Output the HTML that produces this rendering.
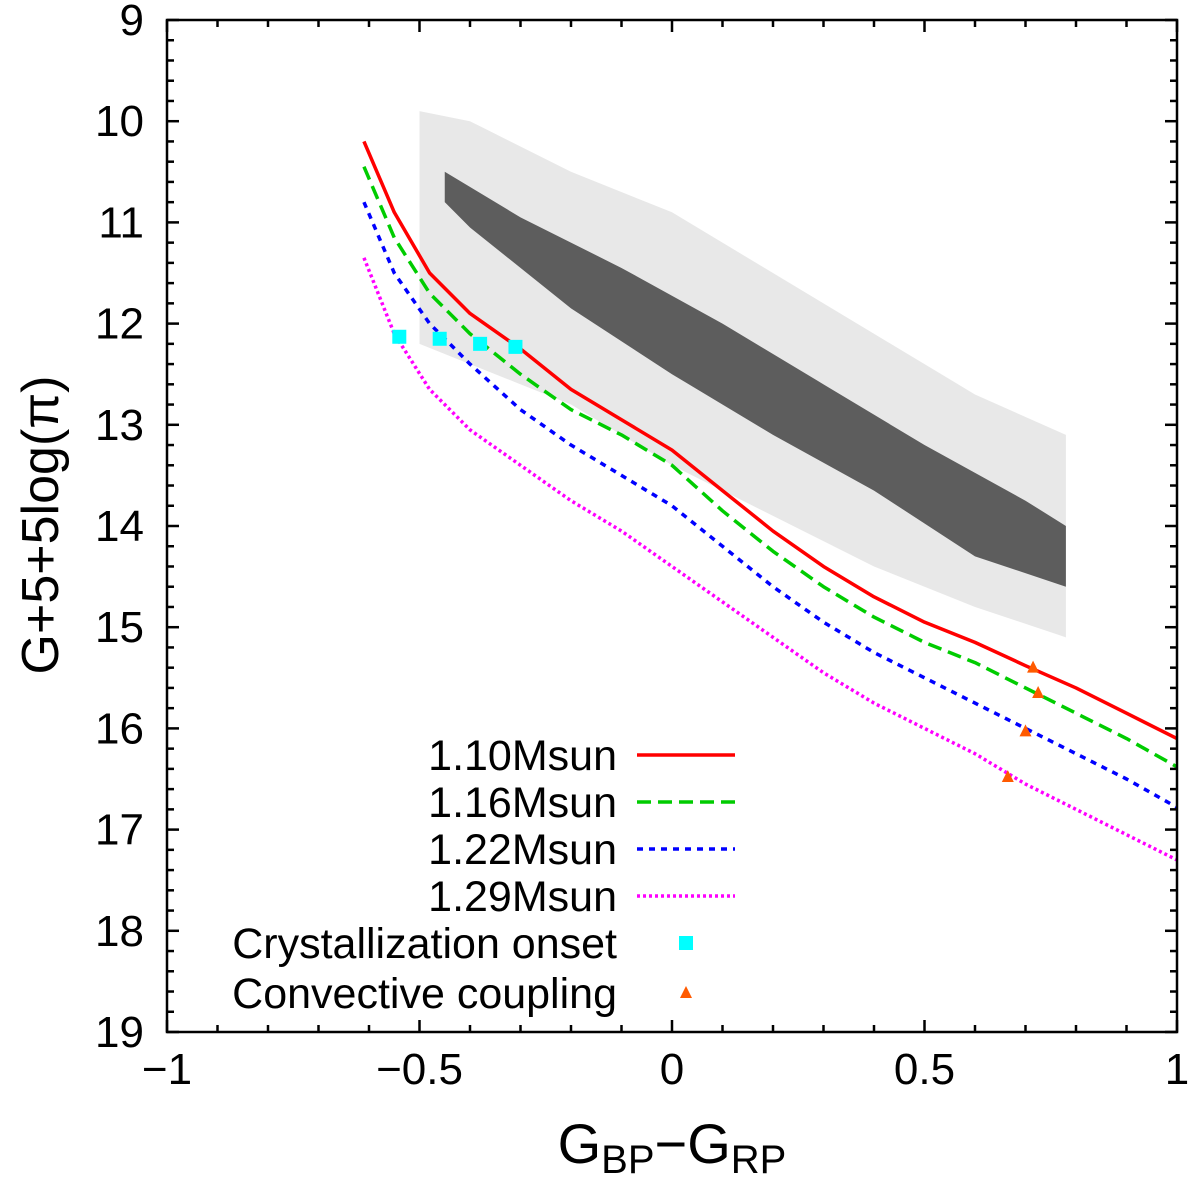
<!DOCTYPE html>
<html><head><meta charset="utf-8"><style>
body{margin:0;background:#fff;}
svg{display:block;font-family:"Liberation Sans",sans-serif;}
</style></head><body>
<svg id="c" width="1200" height="1185" xmlns="http://www.w3.org/2000/svg"></svg>
<script>
const xTicks=[-1,-0.5,0,0.5,1];
const xTickLabels=["\u22121","\u22120.5","0","0.5","1"];
const yTicks=[9,10,11,12,13,14,15,16,17,18,19];
const curveX=[-0.61,-0.55,-0.48,-0.4,-0.3,-0.2,-0.1,0,0.1,0.2,0.3,0.4,0.5,0.6,0.7,0.8,0.9,1.0];
const red110=[10.2,10.9,11.5,11.9,12.25,12.65,12.95,13.25,13.65,14.05,14.4,14.7,14.95,15.15,15.38,15.6,15.85,16.1];
const green116=[10.45,11.15,11.7,12.1,12.5,12.85,13.1,13.4,13.85,14.25,14.6,14.9,15.15,15.35,15.6,15.85,16.1,16.38];
const blue122=[10.8,11.5,12.0,12.4,12.85,13.2,13.5,13.8,14.2,14.6,14.95,15.25,15.5,15.75,16.0,16.25,16.5,16.78];
const mag129=[11.35,12.1,12.65,13.05,13.4,13.75,14.05,14.4,14.75,15.1,15.45,15.75,16.0,16.25,16.55,16.8,17.05,17.3];
const crystX=[-0.54,-0.46,-0.38,-0.31];
const crystY=[12.13,12.15,12.2,12.23];
const convX=[0.715,0.725,0.70,0.665];
const convY=[15.4,15.65,16.03,16.48];
const sparseX=[-0.5,-0.4,-0.2,0,0.2,0.4,0.6,0.78,0.78,0.6,0.4,0.2,0,-0.2,-0.4,-0.5];
const sparseY=[9.9,10.0,10.5,10.9,11.5,12.1,12.7,13.1,15.1,14.8,14.4,13.9,13.4,12.8,12.4,12.2];
const denseX=[-0.45,-0.3,-0.1,0.1,0.3,0.5,0.7,0.78,0.78,0.6,0.4,0.2,0,-0.2,-0.4,-0.45];
const denseY=[10.5,10.95,11.45,12.0,12.6,13.2,13.75,14.0,14.6,14.3,13.65,13.1,12.5,11.85,11.05,10.8];

const L=167,R=1177,T=20,B=1032;
const sx=v=>L+(v+1)/2*(R-L);
const sy=v=>T+(v-9)/10*(B-T);
const NS="http://www.w3.org/2000/svg";
const svg=document.getElementById('c');
function mk(t,a,p){const e=document.createElementNS(NS,t);for(const k in a)e.setAttribute(k,a[k]);(p||svg).appendChild(e);return e;}

let g=mk('g',{});


let e=mk('polygon',{points:sparseX.map((x,i)=>sx(x)+','+sy(sparseY[i])).join(' '),fill:'#000','fill-opacity':0.09},g);


e=mk('polygon',{points:denseX.map((x,i)=>sx(x)+','+sy(denseY[i])).join(' '),fill:'#000','fill-opacity':0.6},g);



const series=[[red110,'#ff0000','none','curve-1-10msun'],[green116,'#00cc00','14,7','curve-1-16msun'],[blue122,'#0000ff','6,6','curve-1-22msun'],[mag129,'#ff00ff','3,3','curve-1-29msun']];
const cp=mk('clipPath',{id:'cl'});mk('rect',{x:L,y:T,width:R-L,height:B-T},cp);
series.forEach(s=>{
  const p=mk('polyline',{points:curveX.map((x,i)=>sx(x)+','+sy(s[0][i])).join(' '),fill:'none',stroke:s[1],'stroke-width':3.5,'stroke-dasharray':s[2],'stroke-linejoin':'round','clip-path':'url(#cl)'});
  
  
});
crystX.forEach((x,i)=>{
  const r=mk('rect',{x:sx(x)-7,y:sy(crystY[i])-7,width:14,height:14,fill:'#00ffff'});
  
  
});
convX.forEach((x,i)=>{
  const cx=sx(x),cy=sy(convY[i]);
  const t=mk('polygon',{points:`${cx-6},${cy+5} ${cx+6},${cy+5} ${cx},${cy-7}`,fill:'#ff5a00'});
  
  
});

const ax=mk('g',{stroke:'#000','stroke-width':2.5,fill:'none'});


mk('rect',{x:L,y:T,width:R-L,height:B-T},ax);
for(let i=0;i<=20;i++){const v=-1+i*0.1,X=sx(v),len=i%5?7:12;
  mk('line',{x1:X,y1:B,x2:X,y2:B-len},ax);mk('line',{x1:X,y1:T,x2:X,y2:T+len},ax);}
for(let i=0;i<=50;i++){const v=9+i*0.2,Y=sy(v),len=i%5?7:12;
  mk('line',{x1:L,y1:Y,x2:L+len,y2:Y},ax);mk('line',{x1:R,y1:Y,x2:R-len,y2:Y},ax);}
xTicks.forEach((v,i)=>{const t=mk('text',{x:sx(v),y:1084,'text-anchor':'middle','font-size':44});t.textContent=xTickLabels[i];
  });
yTicks.forEach(v=>{const t=mk('text',{x:144,y:sy(v)+15,'text-anchor':'end','font-size':44});t.textContent=v;
  });

let t=mk('text',{x:672,y:1163,'text-anchor':'middle','font-size':56});
t.innerHTML='G<tspan font-size="40" dy="10">BP</tspan><tspan dy="-10">\u2212G</tspan><tspan font-size="40" dy="10">RP</tspan>';

t=mk('text',{x:0,y:0,'text-anchor':'middle','font-size':52,transform:'translate(58,525) rotate(-90)'});
t.textContent='G+5+5log(\u03c0)';


const leg=mk('g',{});

const labels=['1.10Msun','1.16Msun','1.22Msun','1.29Msun','Crystallization onset','Convective coupling'];
const ly=[755,802,849,896,943,993];
labels.forEach((s,i)=>{
  const tx=mk('text',{x:617,y:ly[i]+15,'text-anchor':'end','font-size':43},leg);tx.textContent=s;
  
  if(i<4){mk('line',{x1:637,y1:ly[i],x2:735,y2:ly[i],stroke:series[i][1],'stroke-width':3.5,'stroke-dasharray':series[i][2]},leg);}
  else if(i==4){mk('rect',{x:679,y:ly[i]-7,width:14,height:14,fill:'#00ffff'},leg);}
  else{mk('polygon',{points:`680,${ly[i]+5} 692,${ly[i]+5} 686,${ly[i]-7}`,fill:'#ff5a00'},leg);}
});
</script>
</body></html>
